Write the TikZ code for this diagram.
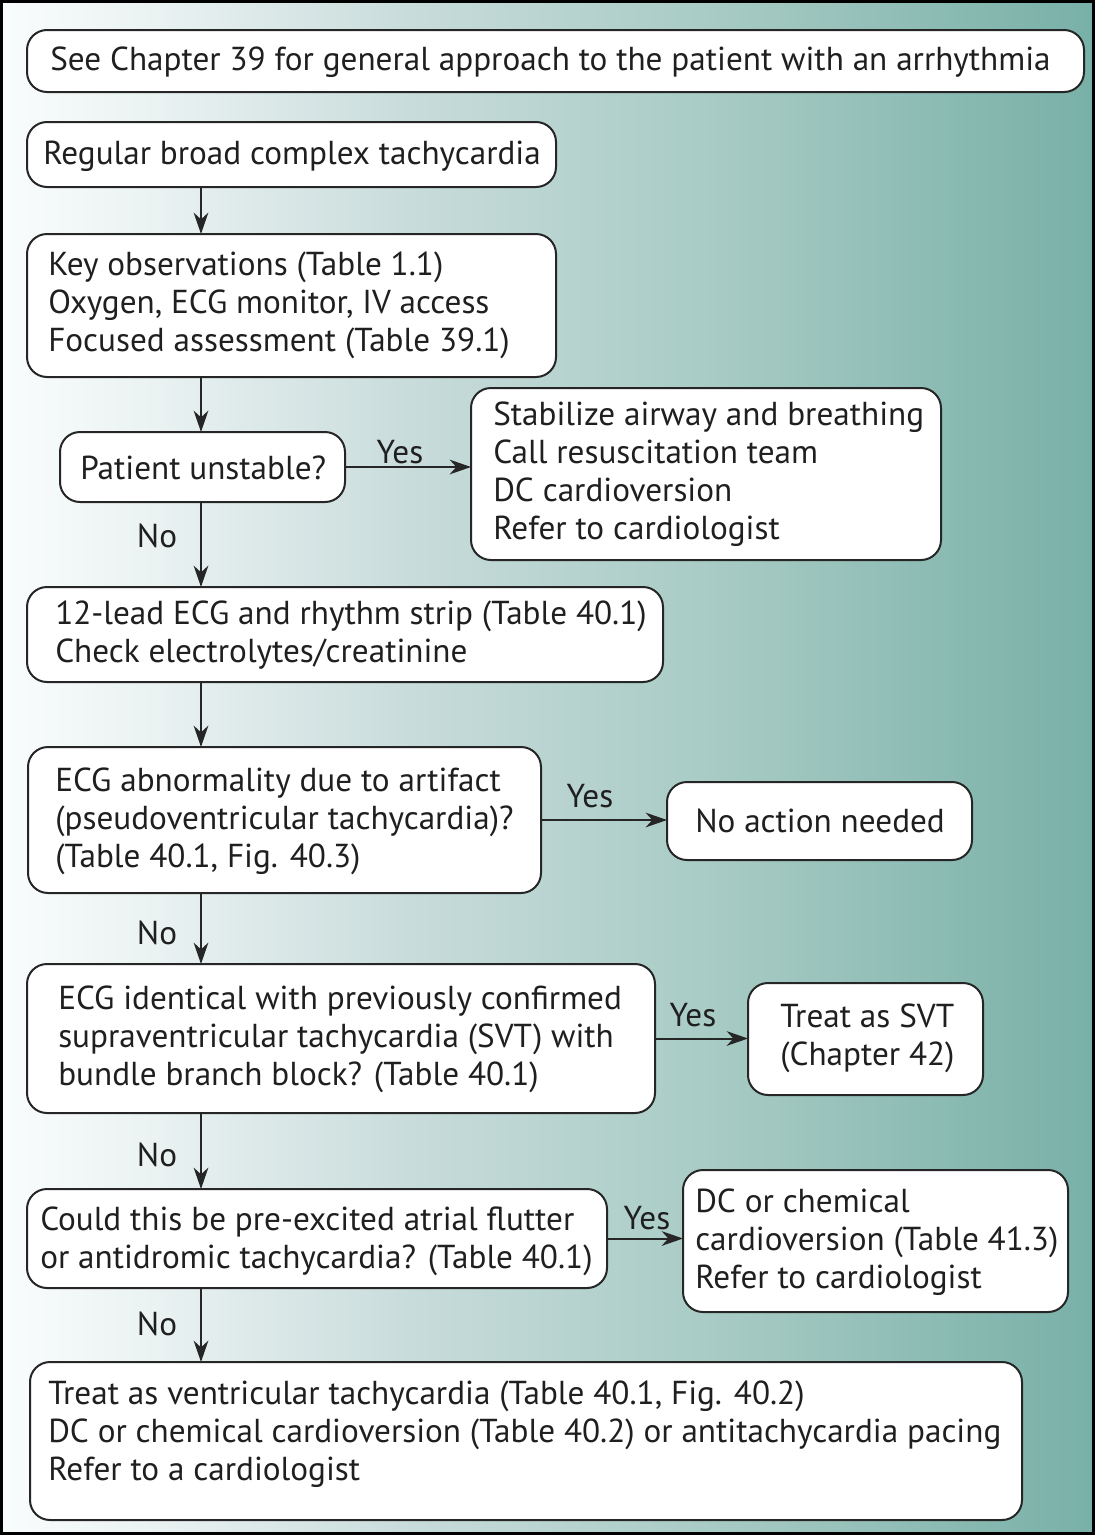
\documentclass[tikz,border=0pt]{standalone}
\usepackage{fontspec}
\setmainfont{PT Sans}
\usetikzlibrary{arrows.meta}
\pgfdeclarehorizontalshading{bgshade}{100bp}{rgb(0bp)=(0.98,0.99,0.99); rgb(25bp)=(0.98,0.99,0.99); rgb(31.85bp)=(0.92,0.95,0.95); rgb(44.18bp)=(0.78,0.86,0.855); rgb(56.96bp)=(0.665,0.80,0.775); rgb(75bp)=(0.47,0.69,0.655); rgb(100bp)=(0.47,0.69,0.655)}
\begin{document}
\begin{tikzpicture}[x=0.75pt,y=-0.75pt,
  box/.style={draw=black!85, line width=1.5pt, rounded corners=15pt, fill=white, inner sep=0pt, outer sep=0pt, anchor=north west},
  txt/.style={anchor=west, align=left, inner sep=0pt, text=black!88, font=\fontsize{24.9}{28.5}\selectfont},
  lbl/.style={inner sep=0pt, text=black!88, font=\fontsize{24.9}{28.5}\selectfont},
  arr/.style={draw=black!85, line width=1.5pt, -{Stealth[length=16pt,width=11pt,inset=5pt]}}]
\newcommand\bx[5]{\node[box, minimum width={(#4-#2)*0.75pt}, minimum height={(#5-#3)*0.75pt}] (#1) at (#2,#3) {};}
\useasboundingbox (0,0) rectangle (1095,1535);
\shade[shading=bgshade] (0,0) rectangle (1095,1535);
\draw[line width=2.25pt] (1.5,1.5) rectangle (1093.5,1533.5);
\coordinate (spine) at (201,0);
% boxes
\bx{chap}{27}{30}{1084}{92}
\bx{reg}{27}{122}{556}{187}
\bx{key}{27}{234}{556}{377}
\bx{unst}{60}{432}{345}{502}
\bx{stab}{471}{388}{941}{560}
\bx{lead}{27}{587}{663}{682}
\bx{abn}{28}{747}{541}{893}
\bx{noact}{667}{782}{972}{860}
\bx{ident}{27}{964}{655}{1113}
\bx{svt}{748}{983}{983}{1095}
\bx{could}{27}{1189}{607}{1288}
\bx{dc}{683}{1170}{1068}{1312}
\bx{vt}{30}{1362}{1022}{1520}
% texts
\node[txt] (chapT) at (50,62) {See Chapter 39 for general approach to the patient with an arrhythmia};
\node[txt] (regT) at (43,156) {Regular broad complex tachycardia};
\node[txt] (keyT) at (48,305) {Key observations (Table 1.1)\\Oxygen, ECG monitor, IV access\\Focused assessment (Table 39.1)};
\node[txt] (unstT) at (80,468) {Patient unstable?};
\node[txt] (stabT) at (493,474) {Stabilize airway and breathing\\Call resuscitation team\\DC cardioversion\\Refer to cardiologist};
\node[txt] (leadT) at (55,635) {12-lead ECG and rhythm strip (Table 40.1)\\Check electrolytes/creatinine};
\node[txt] (abnT) at (55,821) {ECG abnormality due to artifact\\(pseudoventricular tachycardia)?\\(Table 40.1, Fig. 40.3)};
\node[txt] (noactT) at (695,821) {No action needed};
\node[txt] (identT) at (58,1039) {ECG identical with previously confirmed\\supraventricular tachycardia (SVT) with\\bundle branch block? (Table 40.1)};
\node[txt] (svtT) at (780,1038) {Treat as SVT\\(Chapter 42)};
\node[txt] (couldT) at (40,1241) {Could this be pre-excited atrial flutter\\or antidromic tachycardia? (Table 40.1)};
\node[txt] (dcT) at (695,1242) {DC or chemical\\cardioversion (Table 41.3)\\Refer to cardiologist};
\node[txt] (vtT) at (48,1434) {Treat as ventricular tachycardia (Table 40.1, Fig. 40.2)\\DC or chemical cardioversion (Table 40.2) or antitachycardia pacing\\Refer to a cardiologist};
% vertical connectors
\draw[arr] (reg.south -| spine) -- (key.north -| spine);
\draw[arr] (key.south -| spine) -- (unst.north -| spine);
\draw[arr] (unst.south -| spine) -- (lead.north -| spine);
\draw[arr] (lead.south -| spine) -- (abn.north -| spine);
\draw[arr] (abn.south -| spine) -- (ident.north -| spine);
\draw[arr] (ident.south -| spine) -- (could.north -| spine);
\draw[arr] (could.south -| spine) -- (vt.north -| spine);
% horizontal connectors
\draw[arr] (unst.east) -- (stab.west |- unst.east);
\draw[arr] (abn.east) -- (noact.west |- abn.east);
\draw[arr] (ident.east) -- (svt.west |- ident.east);
\draw[arr] (could.east) -- (dc.west |- could.east);
% labels
\node[lbl] (y1) at (400,452) {Yes};
\node[lbl] (y2) at (590,796) {Yes};
\node[lbl] (y3) at (693,1015) {Yes};
\node[lbl] (y4) at (647,1218) {Yes};
\node[lbl] (n1) at (157,536) {No};
\node[lbl] (n2) at (157,933) {No};
\node[lbl] (n3) at (157,1155) {No};
\node[lbl] (n4) at (157,1324) {No};
\end{tikzpicture}
\end{document}
